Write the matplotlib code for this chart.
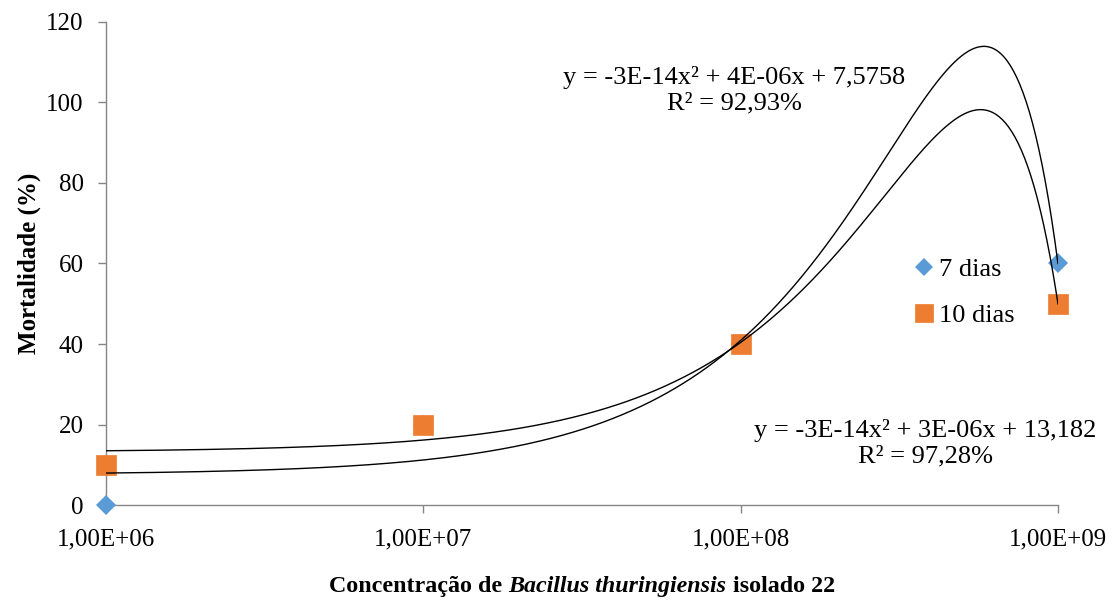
import numpy as np
import matplotlib
matplotlib.use("Agg")
import matplotlib.pyplot as plt
from matplotlib.offsetbox import TextArea, HPacker, AnchoredOffsetbox

plt.rcParams['font.family'] = ['Liberation Serif', 'DejaVu Serif']

# Data
conc = [1e6, 1e7, 1e8, 1e9]
mort_7 = [0, 20, 40, 60]
mort_10 = [10, 20, 40, 50]
x_ticks = [1e6, 1e7, 1e8, 1e9]
x_tick_labels = ['1,00E+06', '1,00E+07', '1,00E+08', '1,00E+09']
y_ticks = [0, 20, 40, 60, 80, 100, 120]
eq_7 = 'y = -3E-14x² + 4E-06x + 7,5758\nR² = 92,93%'
eq_10 = 'y = -3E-14x² + 3E-06x + 13,182\nR² = 97,28%'

blue = '#5B9BD5'
orange = '#ED7D31'
gray = '#868686'

fig = plt.figure(figsize=(11.18, 6.02), dpi=100)
ax = fig.add_axes([0.0948, 0.1611, 0.8515, 0.8024])

ax.plot(conc, mort_7, linestyle='none', marker='D', markersize=10.5,
        markeredgewidth=0, color=blue, label='7 dias', zorder=3, clip_on=False)
ax.plot(conc, mort_10, linestyle='none', marker='s', markersize=14.5,
        markeredgewidth=0.5, color=orange, label='10 dias', zorder=4, clip_on=False)

# polynomial (order 2) trendlines in linear x, drawn on log axis
xs = np.logspace(6, 9, 600)
for y in (mort_7, mort_10):
    p = np.polyfit(np.array(conc) / 1e8, y, 2)
    ax.plot(xs, np.polyval(p, xs / 1e8), color='black', lw=1.0, zorder=5)

ax.set_xscale('log')
ax.set_xlim(1e6, 1e9)
ax.set_ylim(0, 120)
ax.set_xticks(x_ticks)
ax.set_xticklabels(x_tick_labels)
ax.xaxis.set_minor_locator(matplotlib.ticker.NullLocator())
ax.set_yticks(y_ticks)
ax.tick_params(axis='both', labelsize=18, color=gray, length=6, width=1)
ax.tick_params(axis='x', pad=11)
ax.tick_params(axis='y', pad=10)

for s in ('top', 'right'):
    ax.spines[s].set_visible(False)
for s in ('left', 'bottom'):
    ax.spines[s].set_color(gray)
    ax.spines[s].set_linewidth(1)
ax.patch.set_visible(False)

ax.set_ylabel('Mortalidade (%)', fontsize=18, fontweight='bold', labelpad=4)

ax.text(0.6565, 0.850, eq_7, transform=fig.transFigure, ha='center',
        va='center', fontsize=19, linespacing=1.2)
ax.text(0.8274, 0.264, eq_10, transform=fig.transFigure, ha='center',
        va='center', fontsize=19, linespacing=1.2)

ax.legend(loc='center left', bbox_to_anchor=(0.845, 0.44), frameon=False,
          fontsize=19, handletextpad=0.1, handlelength=1.0,
          labelspacing=0.85, borderaxespad=0, borderpad=0, markerscale=0.9)

# x label with italic species name
parts = [TextArea('Concentração de ', textprops=dict(fontsize=17.3, fontweight='bold')),
         TextArea('Bacillus thuringiensis', textprops=dict(fontsize=17.3, fontweight='bold', style='italic')),
         TextArea(' isolado 22', textprops=dict(fontsize=17.3, fontweight='bold'))]
box = HPacker(children=parts, align='baseline', pad=0, sep=0)
anch = AnchoredOffsetbox(loc='center', child=box, frameon=False,
                         bbox_to_anchor=(0.5206, 0.025), bbox_transform=fig.transFigure,
                         borderpad=0, pad=0)
fig.add_artist(anch)

fig.savefig('out.png', dpi=100)
